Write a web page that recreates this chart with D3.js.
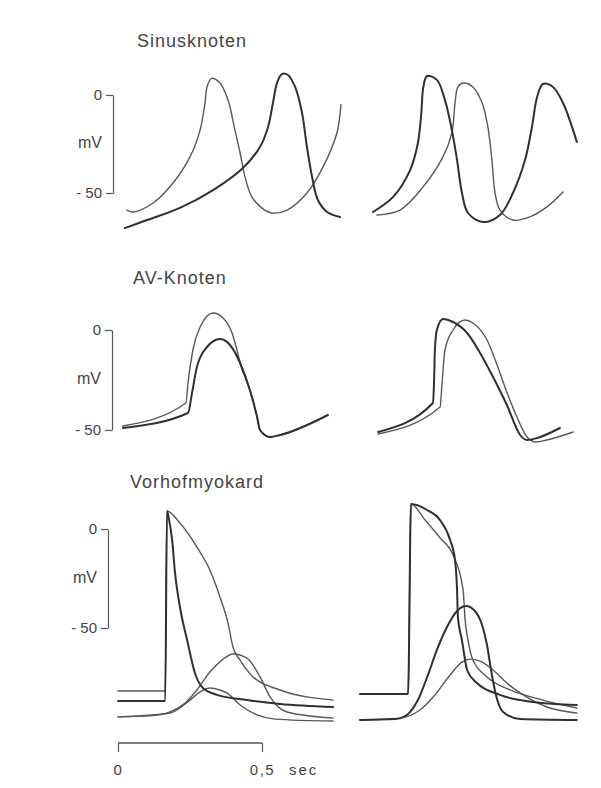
<!DOCTYPE html>
<html>
<head>
<meta charset="utf-8">
<script src="https://cdn.jsdelivr.net/npm/d3@7/dist/d3.min.js"></script>
<style>
  html, body { margin: 0; padding: 0; background: #fff; }
  svg { display: block; }
  text { font-family: "Liberation Sans", Arial, Helvetica, sans-serif; fill: #444; }
</style>
</head>
<body>
<svg id="chart" width="601" height="788"></svg>
<script>
// Panel titles and axis ticks
const panelTitles = ["Sinusknoten", "AV-Knoten", "Vorhofmyokard"];
const voltageTicks = [0, -50];          // mV
const timeTicks = [0, 0.5];             // s
const timeUnit = "sec";
const voltageUnit = "mV";

// Traces: [time in ms from the start of the column, membrane potential in mV]
// Sinusknoten, left column
const sinusLeftThin = [[31,-58.7],[52,-59.7],[122,-55.1],[191,-44.9],[250,-31.6],[285,-17.9],[302,-4.1],[310,4.6],[325,8.5],[354,6.1],[382,-2.6],[406,-17.9],[424,-29.6],[441,-41.8],[465,-52.0],[500,-57.7],[535,-60.2],[587,-58.7],[656,-50.0],[712,-36.7],[760,-19.4],[774,-5.0]];
const sinusLeftThick = [[24,-67.9],[101,-63.8],[215,-57.6],[330,-48.5],[434,-37.2],[493,-26.5],[521,-16.3],[538,-4.1],[552,6.1],[569,10.7],[590,10.2],[615,4.1],[639,-9.2],[656,-26.5],[674,-41.8],[694,-53.6],[726,-59.7],[771,-62.2]];
// Sinusknoten, right column
const sinusRightThick = [[45,-59.7],[115,-52.0],[174,-38.3],[201,-24.5],[213,-9.0],[220,4.1],[233,9.7],[267,7.7],[295,-2.6],[319,-17.9],[337,-33.2],[354,-50.0],[375,-60.2],[427,-64.8],[486,-61.2],[531,-50.0],[573,-33.2],[597,-16.3],[615,-1.0],[635,5.6],[670,4.1],[705,-4.1],[753,-24.0]];
const sinusRightThin = [[59,-61.2],[139,-58.7],[219,-46.9],[288,-31.6],[319,-19.4],[330,-4.1],[340,4.1],[358,6.1],[392,4.1],[424,-4.1],[444,-16.3],[458,-33.2],[469,-50.0],[486,-58.7],[531,-63.8],[590,-62.2],[649,-57.1],[705,-49.5]];

// AV-Knoten, left column
const avLeftThin = [[17,-48],[236,-36.5],[243,-26.5],[260,-10],[285,1.5],[330,8.5],[365,6],[396,-1.5],[413,-10],[424,-16.5],[458,-30],[483,-43.5],[493,-50],[528,-53.5],[563,-52.5],[729,-42.5]];
const avLeftThick = [[17,-49],[243,-41.5],[257,-31.5],[274,-18.5],[309,-8.5],[354,-4.5],[389,-7.5],[424,-16.5],[458,-30],[483,-43.5],[493,-50],[528,-53.5],[563,-52.5],[729,-42.5]];
// AV-Knoten, right column
const avRightThick = [[63,-51],[253,-36.5],[257,-26.5],[260,-10],[267,0],[288,5.5],[323,4],[372,-1.5],[417,-11.5],[462,-23.5],[510,-37.5],[556,-52.5],[580,-55],[615,-54],[694,-49]];
const avRightThin = [[63,-52],[278,-38.5],[285,-26.5],[295,-10],[323,0],[365,5],[392,3.5],[441,-5],[476,-17.5],[507,-30],[542,-42.5],[580,-53.5],[611,-56],[649,-55],[740,-51]];

// Vorhofmyokard, left column: two action potentials and two contraction curves
const atrialLeftSlow = [[0,-81.8],[164,-81.8],[170,9.1],[215,3.0],[274,-9.1],[319,-20.7],[354,-34.3],[382,-47.5],[399,-59.6],[424,-66.2],[469,-74.7],[563,-81.3],[747,-86.4]];
const atrialLeftFast = [[0,-86.9],[164,-86.9],[170,9.1],[177,5],[188,-5.6],[198,-22.2],[215,-39.4],[240,-56.1],[267,-72.7],[295,-80.3],[344,-83.8],[448,-86.4],[563,-88.4],[747,-89.9]];
const atrialLeftTensionLarge = [[0,-94.9],[111,-94.4],[181,-92.4],[233,-87.9],[274,-81.3],[319,-72.2],[361,-66.2],[399,-63.1],[448,-65.2],[493,-74.7],[528,-84.8],[587,-92.4],[747,-95.5]];
const atrialLeftTensionSmall = [[0,-94.9],[181,-92.9],[250,-86.4],[285,-82.3],[319,-80.3],[354,-81.3],[378,-82.8],[424,-88.9],[483,-93.9],[545,-96.0],[747,-97.0]];
// Vorhofmyokard, right column
const atrialRightDome = [[0,-83.3],[167,-83.3],[177,12.6],[233,9.6],[278,4.5],[313,-5.6],[330,-15.7],[337,-30.8],[340,-44.4],[354,-56.1],[372,-71.2],[406,-77.8],[486,-83.8],[601,-87.4],[753,-88.9]];
const atrialRightSlope = [[0,-83.3],[167,-83.3],[177,12.6],[226,4.5],[278,-4.5],[323,-13.1],[358,-30.8],[365,-46.0],[375,-56.1],[392,-66.2],[441,-74.7],[521,-81.3],[635,-86.4],[753,-90.4]];
const atrialRightTensionLarge = [[0,-96.5],[122,-96.0],[167,-93.4],[201,-86.4],[236,-73.7],[267,-61.1],[302,-49.5],[337,-41.4],[368,-38.9],[399,-41.4],[424,-48.5],[441,-58.6],[455,-71.2],[472,-83.8],[497,-92.4],[556,-96.0],[753,-96.5]];
const atrialRightTensionSmall = [[0,-96.5],[139,-95.5],[208,-91.4],[260,-83.8],[313,-73.7],[354,-67.2],[382,-65.7],[417,-66.7],[462,-71.2],[510,-77.8],[556,-82.8],[649,-89.9],[753,-92.9]];

// ---- layout ----
const svg = d3.select("#chart");
const pxPerSecond = 288;
const colStart = [118, 360];
const xCol = colStart.map(x0 => d3.scaleLinear().domain([0, 1000]).range([x0, x0 + pxPerSecond]));

const smooth = d3.curveCatmullRom.alpha(0.5);
const monotone = d3.curveMonotoneX;

const panels = [
  { title: panelTitles[0], titleX: 137, titleY: 47, axisX: 113, y0: 95, y50: 193, curve: smooth,
    traces: [
      { col: 0, data: sinusLeftThin, w: "thin" }, { col: 0, data: sinusLeftThick, w: "thick" },
      { col: 1, data: sinusRightThin, w: "thin" }, { col: 1, data: sinusRightThick, w: "thick" }] },
  { title: panelTitles[1], titleX: 133, titleY: 284, axisX: 112, y0: 330, y50: 430, curve: monotone,
    traces: [
      { col: 0, data: avLeftThin, w: "thin" }, { col: 0, data: avLeftThick, w: "thick" },
      { col: 1, data: avRightThin, w: "thin" }, { col: 1, data: avRightThick, w: "thick" }] },
  { title: panelTitles[2], titleX: 130, titleY: 488, axisX: 108, y0: 529, y50: 628, curve: monotone,
    traces: [
      { col: 0, data: atrialLeftTensionSmall, w: "thin" }, { col: 0, data: atrialLeftTensionLarge, w: "thin" },
      { col: 0, data: atrialLeftSlow, w: "thin" }, { col: 0, data: atrialLeftFast, w: "thick" },
      { col: 1, data: atrialRightTensionSmall, w: "thin" }, { col: 1, data: atrialRightSlope, w: "thin" },
      { col: 1, data: atrialRightTensionLarge, w: "thick" }, { col: 1, data: atrialRightDome, w: "thick" }] }
];

const strokes = {
  thick: { color: "#303030", width: 2.0 },
  thin:  { color: "#585858", width: 1.4 }
};

panels.forEach(p => {
  const y = d3.scaleLinear().domain([0, -50]).range([p.y0, p.y50]);
  const g = svg.append("g");

  g.append("text")
    .attr("x", p.titleX).attr("y", p.titleY)
    .attr("font-size", 18).attr("letter-spacing", 1)
    .text(p.title);

  // voltage scale bar
  const axis = d3.axisLeft(y)
    .tickValues(voltageTicks)
    .tickSize(7).tickSizeOuter(0).tickPadding(4)
    .tickFormat(d => d === 0 ? "0" : "- " + Math.abs(d));
  const ag = g.append("g").attr("transform", `translate(${p.axisX},0)`).call(axis);
  ag.select(".domain").attr("stroke", "#555").attr("stroke-width", 1.2);
  ag.selectAll(".tick line").attr("stroke", "#555").attr("stroke-width", 1.2);
  ag.selectAll(".tick text").attr("font-size", 15).attr("fill", "#444")
    .attr("font-family", '"Liberation Sans", Arial, sans-serif');

  g.append("text")
    .attr("x", p.axisX - 11).attr("y", (y(0) + y(-50)) / 2)
    .attr("text-anchor", "end").attr("dominant-baseline", "middle")
    .attr("font-size", 16)
    .text(voltageUnit);

  const line = col => d3.line()
    .x(d => xCol[col](d[0]))
    .y(d => y(d[1]))
    .curve(p.curve);

  p.traces.forEach(t => {
    g.append("path")
      .attr("d", line(t.col)(t.data))
      .attr("fill", "none")
      .attr("stroke", strokes[t.w].color)
      .attr("stroke-width", strokes[t.w].width)
      .attr("stroke-linejoin", "round")
      .attr("stroke-linecap", "round");
  });
});

// time scale bar
const tScale = d3.scaleLinear().domain([0, 1]).range([colStart[0], colStart[0] + pxPerSecond]);
const tFormat = d3.formatLocale({ decimal: ",", thousands: ".", grouping: [3], currency: ["", ""] }).format(".1f");
const tAxis = d3.axisBottom(tScale)
  .tickValues(timeTicks)
  .tickSize(9).tickSizeOuter(0).tickPadding(12)
  .tickFormat(d => d === 0 ? "0" : tFormat(d));
const tg = svg.append("g").attr("transform", "translate(0,743)").call(tAxis);
tg.select(".domain").attr("stroke", "#555").attr("stroke-width", 1.3)
  .attr("d", `M${tScale(0)},0H${tScale(0.5)}`);
tg.selectAll(".tick line").attr("stroke", "#555").attr("stroke-width", 1.2);
tg.selectAll(".tick text").attr("font-size", 15).attr("fill", "#444")
  .attr("letter-spacing", 1.5)
  .attr("font-family", '"Liberation Sans", Arial, sans-serif');
svg.append("text")
  .attr("x", tScale(0.5) + 27).attr("y", 775)
  .attr("font-size", 15).attr("letter-spacing", 2)
  .text(timeUnit);
</script>
</body>
</html>
